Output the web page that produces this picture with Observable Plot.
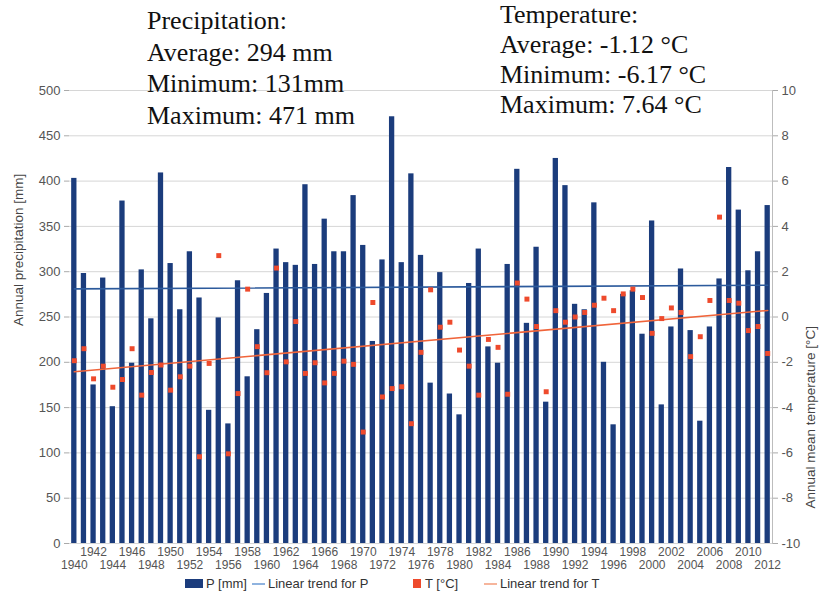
<!DOCTYPE html>
<html>
<head>
<meta charset="utf-8">
<script src="https://cdn.jsdelivr.net/npm/d3@7"></script>
<script src="https://cdn.jsdelivr.net/npm/@observablehq/plot@0.6"></script>
<style>
  html, body { margin: 0; padding: 0; background: #fff; }
  #wrap { position: relative; width: 820px; height: 599px; overflow: hidden; }
  .note { position: absolute; font-family: "Liberation Serif", "Times New Roman", serif; font-size: 26px; color: #111; white-space: nowrap; }
  #legend { position: absolute; left: 0; top: 576px; width: 820px; height: 18px; font-family: "Liberation Sans", Arial, sans-serif; font-size: 13px; color: #333; }
  #legend span { position: absolute; top: 0; line-height: 16px; white-space: nowrap; }
  .sw { display: block; position: absolute; }
</style>
</head>
<body>
<div id="wrap">
  <div id="chart"></div>
  <div class="note" id="noteP" style="left:147px; top:5px; line-height:31.5px;"></div>
  <div class="note" id="noteT" style="left:500px; top:0px; line-height:30px;"></div>
  <div id="legend"></div>
</div>
<script>
// ---- data ----
const years = [1940,1941,1942,1943,1944,1945,1946,1947,1948,1949,
  1950,1951,1952,1953,1954,1955,1956,1957,1958,1959,
  1960,1961,1962,1963,1964,1965,1966,1967,1968,1969,
  1970,1971,1972,1973,1974,1975,1976,1977,1978,1979,
  1980,1981,1982,1983,1984,1985,1986,1987,1988,1989,
  1990,1991,1992,1993,1994,1995,1996,1997,1998,1999,
  2000,2001,2002,2003,2004,2005,2006,2007,2008,2009,
  2010,2011,2012];
const precipitation = [403,298,175,293,151,378,199,302,248,409,
  309,258,322,271,147,249,132,290,184,236,
  276,325,310,307,396,308,358,322,322,384,
  329,223,313,471,310,408,318,177,299,165,
  142,287,325,217,199,308,413,243,327,156,
  425,395,264,258,376,200,131,275,279,231,
  356,153,239,303,235,135,239,292,415,368,
  301,322,373];
const temperature = [-1.93,-1.40,-2.73,-2.17,-3.10,-2.76,-1.40,-3.45,-2.45,-2.12,
  -3.23,-2.64,-2.17,-6.17,-2.05,2.71,-6.04,-3.38,1.23,-1.31,
  -2.46,2.16,-1.98,-0.20,-2.49,-2.02,-2.91,-2.49,-1.95,-2.09,
  -5.08,0.64,-3.53,-3.16,-3.08,-4.71,-1.56,1.20,-0.45,-0.23,
  -1.46,-2.17,-3.45,-0.99,-1.34,-3.41,1.50,0.79,-0.42,-3.30,
  0.28,-0.23,0.00,0.20,0.52,0.83,0.28,1.02,1.23,0.86,
  -0.72,-0.07,0.40,0.20,-1.75,-0.87,0.73,4.41,0.73,0.61,
  -0.60,-0.42,-1.61];
const trendPYears = [1940, 2012];
const trendPValues = [281, 285];
const trendTYears = [1940, 2012];
const trendTValues = [-2.42, 0.29];
const precipTicks = [0,50,100,150,200,250,300,350,400,450,500];
const tempTicks = [-10,-8,-6,-4,-2,0,2,4,6,8,10];
const xLabelsRow1 = [1942,1946,1950,1954,1958,1962,1966,1970,1974,1978,1982,1986,1990,1994,1998,2002,2006,2010];
const xLabelsRow2 = [1940,1944,1948,1952,1956,1960,1964,1968,1972,1976,1980,1984,1988,1992,1996,2000,2004,2008,2012];
const notesP = ["Precipitation:", "Average: 294 mm", "Minimum: 131mm", "Maximum: 471 mm"];
const notesT = ["Temperature:", "Average: -1.12 \u00b0C", "Minimum: -6.17 \u00b0C", "Maximum: 7.64 \u00b0C"];
const yTitleLeft = "Annual precipitation [mm]";
const yTitleRight = "Annual mean temperature [\u00b0C]";

// ---- derived tables ----
const rows = years.map((y, i) => ({year: y, p: precipitation[i], t: temperature[i]}));
const trendP = trendPYears.map((y, i) => ({year: y, v: trendPValues[i]}));
const trendT = trendTYears.map((y, i) => ({year: y, v: trendTValues[i]}));
// temperature axis (-10..10) shares the plot with precipitation (0..500)
const tToY = t => (t + 10) * 25;

const BAR = "#1b3c7c", RED = "#ee4a2c", PLINE = "#2c5a9c", TLINE = "#f0643a";

const chart = Plot.plot({
  width: 820,
  height: 573,
  marginLeft: 69,
  marginRight: 48,
  marginTop: 90,
  marginBottom: 30,
  x: {type: "band", domain: years, paddingInner: 0.45, paddingOuter: 0.225, axis: null},
  y: {domain: [0, 500], axis: null},
  style: {fontFamily: "'Liberation Sans', Arial, sans-serif", fontSize: "13px", background: "white", overflow: "visible"},
  marks: [
    Plot.gridY(precipTicks, {stroke: "#d6d6d6", strokeOpacity: 1}),
    Plot.barY(rows, {x: "year", y: "p", fill: BAR}),
    Plot.line(trendP, {x: "year", y: "v", stroke: PLINE, strokeWidth: 1.6}),
    Plot.line(trendT, {x: "year", y: d => tToY(d.v), stroke: TLINE, strokeWidth: 1.6}),
    Plot.dot(rows, {x: "year", y: d => tToY(d.t), symbol: "square", r: 2.8, fill: RED}),
    Plot.frame({anchor: "right", stroke: "#bdbdbd"}),
    Plot.axisY(precipTicks, {anchor: "left", label: null, tickSize: 5, tickPadding: 4, stroke: "#aaa", fill: "#555", fontSize: 13}),
    Plot.axisY(tempTicks.map(tToY), {anchor: "right", label: null, tickSize: 5, tickPadding: 4, stroke: "#aaa", fill: "#555", fontSize: 13,
      tickFormat: d => String(Math.round(d / 25 - 10))}),
    Plot.axisX(xLabelsRow1, {anchor: "bottom", label: null, tickSize: 0, tickPadding: 4, fill: "#555", fontSize: 12, tickFormat: d => String(d)}),
    Plot.axisX(xLabelsRow2, {anchor: "bottom", label: null, tickSize: 0, tickPadding: 17, fill: "#555", fontSize: 12, tickFormat: d => String(d)}),
    Plot.text([yTitleLeft], {frameAnchor: "left", rotate: -90, dx: -51, dy: 9, fill: "#444", fontSize: 13.5}),
    Plot.text([yTitleRight], {frameAnchor: "right", rotate: -90, dx: 38, dy: 9, fill: "#444", fontSize: 13.5})
  ]
});
document.getElementById("chart").appendChild(chart);

document.getElementById("noteP").innerHTML = notesP.join("<br>");
document.getElementById("noteT").innerHTML = notesT.join("<br>");

// ---- legend ----
const legend = document.getElementById("legend");
const items = [
  {sw: {left: 185, top: 3, width: 18, height: 9, background: BAR}, label: "P [mm]", x: 206},
  {sw: {left: 252, top: 7, width: 13, height: 2, background: "#8fb3df"}, label: "Linear trend for P", x: 268},
  {sw: {left: 413, top: 3, width: 8, height: 9, background: RED}, label: "T [\u00b0C]", x: 425},
  {sw: {left: 484, top: 7, width: 13, height: 2, background: "#f6b59c"}, label: "Linear trend for T", x: 500}
];
for (const it of items) {
  const s = document.createElement("i");
  s.className = "sw";
  Object.assign(s.style, Object.fromEntries(Object.entries(it.sw).map(([k, v]) => [k, typeof v === "number" ? v + "px" : v])));
  legend.appendChild(s);
  const t = document.createElement("span");
  t.textContent = it.label;
  t.style.left = it.x + "px";
  legend.appendChild(t);
}
</script>
</body>
</html>
